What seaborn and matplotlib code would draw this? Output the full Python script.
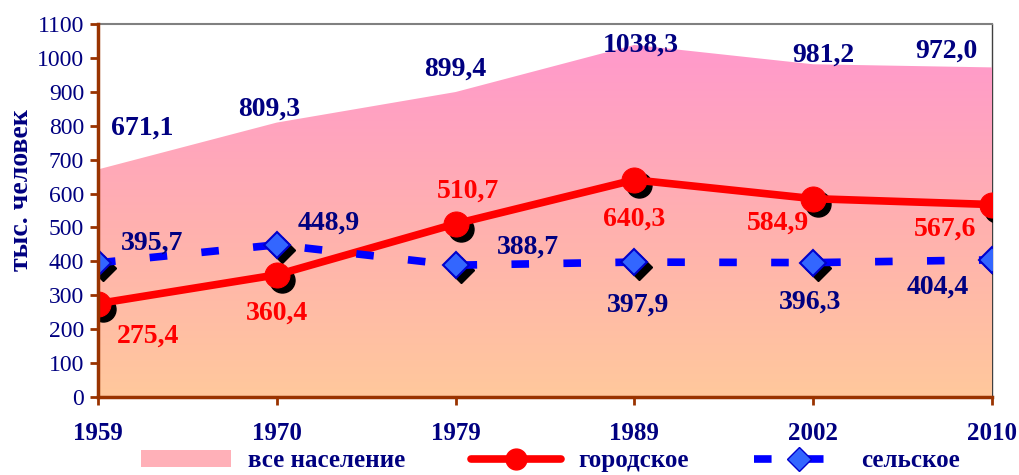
import numpy as np
import pandas as pd
import matplotlib
matplotlib.use("Agg")
import matplotlib.pyplot as plt
import matplotlib.transforms as mtransforms
from matplotlib.lines import Line2D
from matplotlib.patches import Patch
import seaborn as sns

# data
years = ["1959", "1970", "1979", "1989", "2002", "2010"]
total = [671.1, 809.3, 899.4, 1038.3, 981.2, 972.0]
urban = [275.4, 360.4, 510.7, 640.3, 584.9, 567.6]
rural = [395.7, 448.9, 388.7, 397.9, 396.3, 404.4]

total_lbl = ["671,1", "809,3", "899,4", "1038,3", "981,2", "972,0"]
urban_lbl = ["275,4", "360,4", "510,7", "640,3", "584,9", "567,6"]
rural_lbl = ["395,7", "448,9", "388,7", "397,9", "396,3", "404,4"]

df = pd.DataFrame({"pos": np.arange(len(years)), "total": total,
                   "urban": urban, "rural": rural})

sns.set_theme(style="white")
plt.rcParams["font.family"] = ["Liberation Serif", "DejaVu Serif"]

navy = "#000080"
brown = "#993300"

fig = plt.figure(figsize=(10.19, 4.75), dpi=100)
ax = fig.add_axes([98 / 1019, 1 - 397 / 475, 894 / 1019, 373 / 475])

# gradient area for total population
x = df["pos"].values
poly = ax.fill_between(x, 0, df["total"], color="none", lw=0, zorder=2)
grad = np.linspace(0, 1, 256).reshape(-1, 1)
cmap = matplotlib.colors.LinearSegmentedColormap.from_list(
    "g", ["#FFC89C", "#FFB0B0", "#FF99CC"])
img = ax.imshow(grad, cmap=cmap, aspect="auto", origin="lower",
                extent=[0, 5, 0, 1040], zorder=2)
img.set_clip_path(poly.get_paths()[0], transform=ax.transData)

# shadows for markers
shadow = mtransforms.offset_copy(ax.transData, fig=fig, x=5, y=-5, units="dots")
ax.plot(x, df["urban"], "o", color="black", ms=18, transform=shadow, zorder=3)
ax.plot(x, df["rural"], "D", color="black", ms=13, transform=shadow, zorder=3)

sns.lineplot(data=df, x="pos", y="urban", ax=ax, color="red", lw=5.5,
             marker="o", ms=18, markeredgecolor="red", zorder=4)
sns.lineplot(data=df, x="pos", y="rural", ax=ax, color="#0000FF", lw=5.5,
             dashes=(2.3, 4.5), marker="D", ms=13, markerfacecolor="#3366FF",
             markeredgecolor="#0000CC", markeredgewidth=1.5, zorder=4)

# data labels (offsets in pixels)
total_off = [(44, 41), (-8, 13), (0, 23), (6, 0), (10, 9), (-46, 16)]
urban_off = [(50, -33), (0, -38), (12, 33), (0, -39), (-35, -25), (-47, -25)]
rural_off = [(54, 20), (52, 22), (72, 18), (4, -43), (-3, -40), (-54, -27)]
for vals, lbls, offs, col in [(total, total_lbl, total_off, navy),
                              (urban, urban_lbl, urban_off, "red"),
                              (rural, rural_lbl, rural_off, navy)]:
    for i, (v, t, o) in enumerate(zip(vals, lbls, offs)):
        ax.annotate(t, (i, v), xytext=o, textcoords="offset pixels",
                    ha="center", va="center", fontsize=20, fontweight="bold",
                    color=col, zorder=6)

ax.set_xlim(0, 5)
ax.set_ylim(0, 1100)
ax.set_yticks(range(0, 1101, 100))
ax.set_xticks(x)
ax.set_xticklabels(years, fontweight="bold", fontsize=18, color=navy)
ax.tick_params(axis="x", pad=12)
ax.tick_params(axis="y", labelsize=17, labelcolor=navy, pad=4)
ax.tick_params(axis="both", direction="out", length=6, width=2, color=brown,
               bottom=True, left=True)
ax.set_xlabel("")
ax.set_ylabel("тыс. человек", fontsize=20, fontweight="bold", color=navy)
ax.yaxis.set_label_coords(-0.072, 0.555)

for s in ["left", "bottom"]:
    ax.spines[s].set_color(brown)
    ax.spines[s].set_linewidth(2.5)
    ax.spines[s].set_zorder(5)
ax.spines["top"].set_color("#808080")
ax.spines["top"].set_linewidth(1.5)
ax.spines["right"].set_color("#404040")
ax.spines["right"].set_linewidth(1)
ax.spines["right"].set_zorder(1)

handles = [
    Patch(facecolor="#FFB0B8", edgecolor="none", label="все население"),
    Line2D([], [], color="red", lw=5.5, marker="o", ms=15, label="городское"),
    Line2D([], [], color="#0000FF", lw=5.5, dashes=(2.3, 4.5), marker="D",
           ms=12, markerfacecolor="#3366FF", markeredgecolor="#0000CC",
           label="сельское"),
]
fig.legend(handles=handles, loc="center", bbox_to_anchor=(0.54, 0.03), ncol=3,
           frameon=False, handlelength=3.6, columnspacing=2.6, handletextpad=0.7,
           prop={"weight": "bold", "size": 18}, labelcolor=navy,
           borderpad=0.1)

fig.savefig("out.png", dpi=100)
